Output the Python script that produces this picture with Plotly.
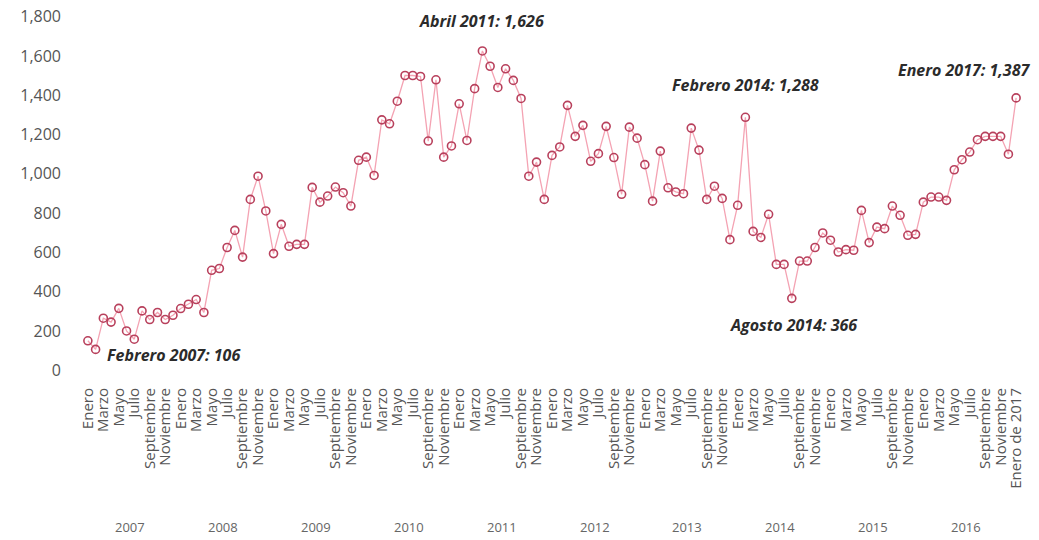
import plotly.graph_objects as go

years = [2007, 2008, 2009, 2010, 2011, 2012, 2013, 2014, 2015, 2016]
month_names = ["Enero", "Febrero", "Marzo", "Abril", "Mayo", "Junio", "Julio",
               "Agosto", "Septiembre", "Octubre", "Noviembre", "Diciembre"]

v2007 = [150, 106, 265, 245, 315, 200, 158, 302, 258, 294, 258, 280]
v2008 = [314, 336, 360, 294, 509, 518, 625, 712, 576, 870, 988, 811]
v2009 = [594, 743, 631, 641, 641, 931, 856, 887, 933, 904, 836, 1069]
v2010 = [1085, 992, 1275, 1255, 1370, 1501, 1501, 1496, 1167, 1479, 1085, 1142]
v2011 = [1357, 1170, 1434, 1626, 1548, 1440, 1535, 1476, 1384, 988, 1060, 870]
v2012 = [1094, 1137, 1349, 1191, 1247, 1064, 1103, 1242, 1083, 896, 1238, 1182]
v2013 = [1047, 861, 1116, 929, 908, 899, 1233, 1121, 870, 937, 875, 665]
v2014 = [840, 1288, 707, 676, 794, 539, 539, 366, 556, 556, 625, 699]
v2015 = [662, 602, 614, 611, 814, 650, 729, 721, 836, 789, 687, 692]
v2016 = [856, 882, 882, 865, 1021, 1072, 1111, 1174, 1191, 1191, 1191, 1100]
v2017 = [1387]

values = v2007 + v2008 + v2009 + v2010 + v2011 + v2012 + v2013 + v2014 + v2015 + v2016 + v2017
labels = [m + " " + str(y) for y in years for m in month_names] + ["Enero 2017"]
x = list(range(len(values)))

tick_idx = list(range(0, len(values), 2))
tick_text = [month_names[i % 12] for i in tick_idx]
tick_text[-1] = "Enero de 2017"

y_ticks = [0, 200, 400, 600, 800, 1000, 1200, 1400, 1600, 1800]

highlights = [
    ("Febrero 2007", 1, "left", "middle", 9, -6),
    ("Abril 2011", 51, "center", "bottom", 0, 17),
    ("Febrero 2014", 85, "center", "bottom", 0, 19),
    ("Agosto 2014", 91, "center", "top", 2, -14),
    ("Enero 2017", 120, "right", "bottom", 16, 15),
]

fig = go.Figure()
fig.add_trace(go.Scatter(
    x=x, y=values, mode="lines+markers", text=labels,
    line=dict(color="#f4a3b3", width=1.3),
    marker=dict(symbol="circle-open", size=8, color="#b8405c", line=dict(width=1.6)),
    cliponaxis=False,
    hovertemplate="%{text}: %{y:,}<extra></extra>",
))

annotations = []
for name, idx, xa, ya, xs, ys in highlights:
    annotations.append(dict(
        x=idx, y=values[idx], xref="x", yref="y",
        text="<b><i>%s: %s</i></b>" % (name, format(values[idx], ",")),
        showarrow=False, xanchor=xa, yanchor=ya, xshift=xs, yshift=ys,
        font=dict(family="Open Sans", size=16, color="#2b2b2b"),
    ))
for k, yr in enumerate(years):
    annotations.append(dict(
        x=12 * k + 5.5, y=-0.384, xref="x", yref="paper",
        text=str(yr), showarrow=False, xanchor="center", yanchor="middle",
        font=dict(family="Open Sans", size=13, color="#666666"),
    ))

fig.update_layout(
    width=1039, height=540,
    margin=dict(l=84, r=18.5, t=4.5, b=158),
    paper_bgcolor="white", plot_bgcolor="white",
    showlegend=False,
    annotations=annotations,
    xaxis=dict(
        range=[-0.5, 120.5], tickmode="array", tickvals=tick_idx, ticktext=tick_text,
        tickangle=-90, showgrid=False, zeroline=False, showline=False,
        tickfont=dict(family="Open Sans", size=15, color="#555555"),
        ticks="", ticklabelstandoff=2,
    ),
    yaxis=dict(
        range=[-60, 1860], tickmode="array", tickvals=y_ticks,
        tickformat=",", showgrid=False, zeroline=False, showline=False,
        tickfont=dict(family="Open Sans", size=16, color="#555555"),
        ticks="", ticklabelstandoff=22, ticklabeloverflow="allow",
    ),
)

fig.write_html(
    "out.html",
    config={"displayModeBar": False},
    post_script="document.body.style.margin='0';document.body.style.padding='0';",
)
